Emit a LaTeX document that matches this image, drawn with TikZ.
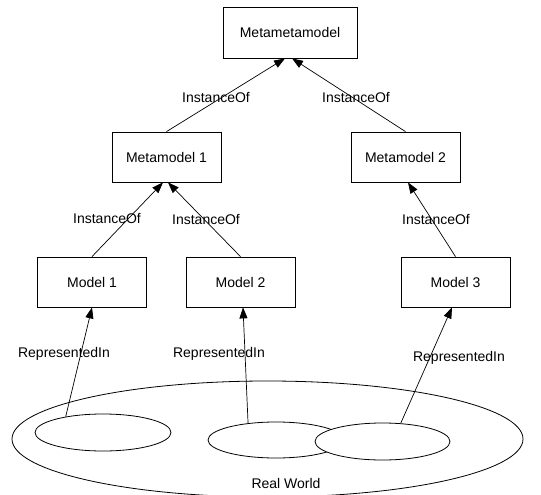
\documentclass[tikz,border=0pt]{standalone}
\usepackage{fontspec}
\setmainfont{Liberation Sans}
\usetikzlibrary{shapes.geometric,arrows.meta}
\tikzset{
  box/.style={draw, line width=0.8bp, minimum width=109bp, minimum height=50bp, inner sep=0pt},
  blob/.style={draw, ellipse, line width=0.8bp, fill=white, inner sep=0pt},
  rel/.style={line width=0.7bp, -{Triangle[length=11bp,width=8bp]}},
  lbl/.style={inner sep=0pt},
}
\begin{document}
\begin{tikzpicture}[x=1bp,y=-1bp,font=\fontsize{14bp}{16bp}\selectfont]
\useasboundingbox (0,0) rectangle (541,495);

% the real world and the parts of it that models represent
\node[blob, minimum width=511bp, minimum height=116bp] (world) at (267.5,439) {};
\node[blob, minimum width=136bp, minimum height=37bp] (p1) at (103,432.5) {};
\node[blob, minimum width=136bp, minimum height=36bp] (p2) at (276,440) {};
\node[blob, minimum width=135bp, minimum height=37bp] (p3) at (382.5,441.5) {};
\node[lbl] (rw) at (286,483) {Real World};

% modelling levels
\node[box, minimum width=134bp, minimum height=51bp] (mmm) at (290,32.5) {Metametamodel};
\node[box] (mm1) at (166.5,157) {Metamodel 1};
\node[box] (mm2) at (405.5,157) {Metamodel 2};
\node[box] (m1) at (92,282) {Model 1};
\node[box] (m2) at (240.5,282) {Model 2};
\node[box] (m3) at (455.5,282) {Model 3};

% instance-of relations
\draw[rel] (mm1.north) -- ([xshift=-5bp]mmm.south);
\draw[rel] (mm2.north) -- ([xshift=2bp]mmm.south);
\draw[rel] (m1.north) -- ([xshift=-3.5bp]mm1.south);
\draw[rel] (m2.north) -- ([xshift=1.5bp]mm1.south);
\draw[rel] (m3.north) -- ([xshift=2.5bp]mm2.south);

\node[lbl] (i1) at (216,98) {InstanceOf};
\node[lbl] (i2) at (356,98) {InstanceOf};
\node[lbl] (i3) at (107,219) {InstanceOf};
\node[lbl] (i4) at (206,220) {InstanceOf};
\node[lbl] (i5) at (436,220) {InstanceOf};

% represented-in relations
\draw[rel] (p1.157) -- (m1.south);
\draw[rel] (p2.149) -- ([xshift=2.5bp]m2.south);
\draw[rel] (p3.45) -- ([xshift=-3.5bp]m3.south);

\node[lbl] (r1) at (64,354) {RepresentedIn};
\node[lbl] (r2) at (219,354) {RepresentedIn};
\node[lbl] (r3) at (459,358) {RepresentedIn};
\end{tikzpicture}
\end{document}
